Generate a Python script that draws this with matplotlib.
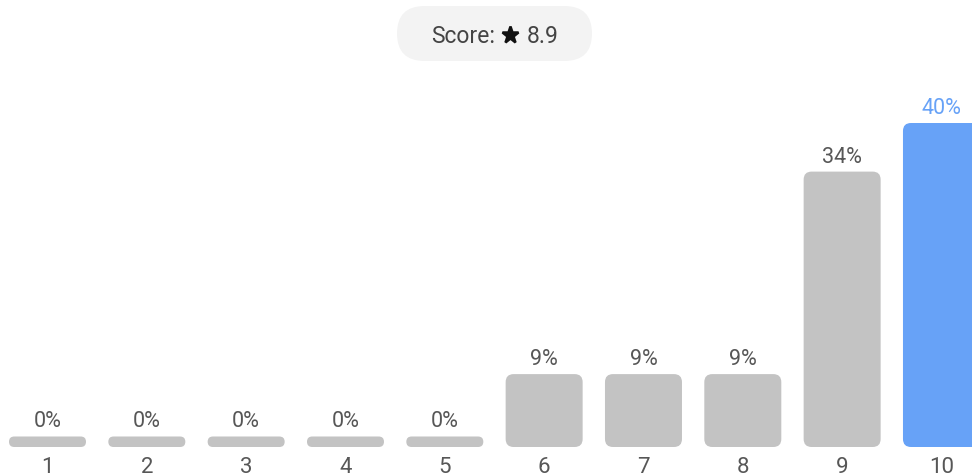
import matplotlib
matplotlib.use("Agg")
import matplotlib.pyplot as plt
from matplotlib.patches import FancyBboxPatch
from matplotlib.lines import Line2D

# Rating distribution
ratings = [1, 2, 3, 4, 5, 6, 7, 8, 9, 10]
shares = [0, 0, 0, 0, 0, 9, 9, 9, 34, 40]
score_text = "8.9"
highlight = 10

W, H, DPI = 972, 477, 100
PT = 72 / DPI  # points per pixel
fig = plt.figure(figsize=(W / DPI, H / DPI), dpi=DPI)
ax = fig.add_axes([0, 0, 1, 1])
ax.set_axis_off()

# axis scale: pixels per category step and per percent
px_x = 99.33
px_y = 8.1
x0_px = 47.5
base_px = 29
ax.set_xlim(1 - x0_px / px_x, 1 + (W - x0_px) / px_x)
ax.set_ylim(-base_px / px_y, (H - base_px) / px_y)

bar_w_px = 77
min_h_px = 10.5
radius_px = 8

gray = "#c3c3c3"
blue = "#67a2f7"
text_gray = "#575757"
aspect = (1 / px_y) / (1 / px_x)

for r, v in zip(ratings, shares):
    h_px = max(v * px_y, min_h_px)
    rad = min(radius_px, h_px / 2) / px_x
    w = bar_w_px / px_x
    color = blue if r == highlight else gray
    patch = FancyBboxPatch((r - w / 2, 0), w, h_px / px_y,
                           boxstyle=f"round,pad=0,rounding_size={rad}",
                           mutation_aspect=aspect, facecolor=color,
                           edgecolor="none")
    ax.add_patch(patch)
    ax.annotate(f"{v}%", (r, h_px / px_y), xytext=(0, 10 * PT),
                textcoords="offset points", ha="center", va="baseline",
                fontsize=15.5, family="Roboto",
                color=blue if r == highlight else text_gray)
    ax.annotate(str(r), (r, 0), xytext=(0, -25 * PT), textcoords="offset points",
                ha="center", va="baseline", fontsize=16, family="Roboto",
                color=text_gray)

# score badge at the top
badge = FancyBboxPatch((397 / W, 1 - 62 / H), 195 / W, 55 / H,
                       boxstyle=f"round,pad=0,rounding_size={27.5 / W}",
                       mutation_aspect=W / H, transform=fig.transFigure,
                       facecolor="#f3f3f3", edgecolor="none")
fig.add_artist(badge)
fig.text(431 / W, 1 - 43 / H, "Score:", ha="left", va="baseline",
         fontsize=16.5, family="Roboto", color="#444444")
star = Line2D([509.5 / W], [1 - 35.5 / H], transform=fig.transFigure,
              marker="*", markersize=12.5, color="#111111",
              markeredgewidth=1.8, markeredgecolor="#111111",
              solid_joinstyle="round")
fig.add_artist(star)
fig.text(527 / W, 1 - 43 / H, score_text, ha="left", va="baseline",
         fontsize=16.5, family="Roboto", color="#444444")

fig.savefig("out.png", dpi=DPI)
